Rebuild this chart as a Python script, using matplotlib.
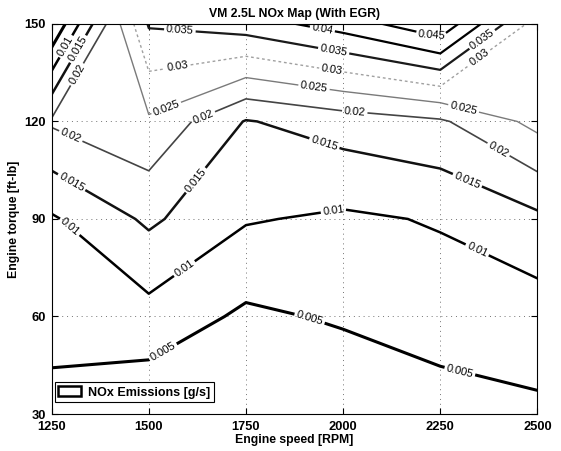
import matplotlib
matplotlib.use('Agg')
import matplotlib.pyplot as plt
from matplotlib.patches import Patch
import numpy as np

plt.rcParams['font.family'] = ['Liberation Sans', 'DejaVu Sans']

# Engine speed [RPM] (columns) and torque [ft-lb] (rows)
speed = [1250, 1500, 1750, 2000, 2250, 2500]
torque = [30, 60, 90, 120, 150]
# NOx emissions [g/s], one row per torque value
nox = [
    [0.0032, 0.0010, 0.0015, 0.0010, 0.0026, 0.0042],
    [0.0070, 0.0082, 0.0041, 0.0056, 0.0075, 0.0075],
    [0.0094, 0.0159, 0.0104, 0.0092, 0.0104, 0.0139],
    [0.0207, 0.0242, 0.0147, 0.0173, 0.0193, 0.0265],
    [0.0000, 0.0355, 0.0376, 0.0423, 0.0490, 0.0275],
]
levels = [0.005, 0.01, 0.015, 0.02, 0.025, 0.03, 0.035, 0.04, 0.045]

# style of each level (grey version of a jet map)
line_colors = ['#000000', '#000000', '#111111', '#444444', '#7a7a7a',
               '#a0a0a0', '#1a1a1a', '#000000', '#000000']
line_widths = [2.2, 1.8, 1.8, 1.2, 1.0, 1.0, 1.6, 1.6, 1.6]
line_styles = ['-', '-', '-', '-', '-', (0, (2, 2)), '-', '-', '-']

# where the inline labels sit, per level
label_pos = [
    [(1540, 48.5), (1910, 58), (2300, 43)],
    [(1297, 87.6), (1590, 75), (1975, 92.5), (2345, 80.5), (1288, 143)],
    [(1300, 101), (1620, 102), (1950, 112.6), (2320, 102), (1322, 142)],
    [(1300, 115.7), (1640, 121.5), (2030, 123), (2400, 111.4), (1322, 134)],
    [(1545, 124.1), (1925, 130.4), (2310, 124)],
    [(1575, 137), (1970, 135.2), (2352, 139.7)],
    [(1580, 148), (1975, 141.3), (2358, 145.2)],
    [(1945, 147.4)],
    [(2228, 146.5)],
]

X, Y = np.meshgrid(speed, torque)
Z = np.array(nox)

fig = plt.figure(figsize=(5.61, 4.51), dpi=100)
ax = fig.add_axes([0.092, 0.082, 0.866, 0.865])

for i, lev in enumerate(levels):
    cs = ax.contour(X, Y, Z, levels=[lev], colors=line_colors[i],
                    linewidths=line_widths[i], linestyles=[line_styles[i]])
    ax.clabel(cs, manual=label_pos[i], inline=True, inline_spacing=2,
              fmt='%g', fontsize=8, colors='k')

ax.set_xlim(1250, 2500)
ax.set_ylim(30, 150)
ax.set_xticks(speed)
ax.set_yticks(torque)
ax.grid(True, linestyle=(0, (1, 4)), color='0.45', linewidth=0.7)
ax.tick_params(direction='in', length=4, top=True, right=True, labelsize=9.3)
ax.tick_params(axis='x', pad=5)
ax.tick_params(axis='y', pad=4)
for lab in ax.get_xticklabels() + ax.get_yticklabels():
    lab.set_fontweight('bold')
for sp in ax.spines.values():
    sp.set_linewidth(0.8)

ax.set_title('VM 2.5L NOx Map (With EGR)', fontsize=8.8, fontweight='bold', pad=5)
ax.set_xlabel('Engine speed [RPM]', fontsize=8.8, fontweight='bold', labelpad=1)
ax.set_ylabel('Engine torque [ft-lb]', fontsize=8.8, fontweight='bold', labelpad=3)

handle = Patch(facecolor='white', edgecolor='black', linewidth=1.8)
leg = ax.legend([handle], ['NOx Emissions [g/s]'], loc='lower left',
                bbox_to_anchor=(0.006, 0.03), borderaxespad=0, fancybox=False,
                edgecolor='black', framealpha=1, handlelength=1.8,
                handleheight=0.9, borderpad=0.3, handletextpad=0.6,
                prop={'size': 9, 'weight': 'bold'})
leg.get_frame().set_linewidth(0.8)

fig.savefig('out.png', dpi=100)
